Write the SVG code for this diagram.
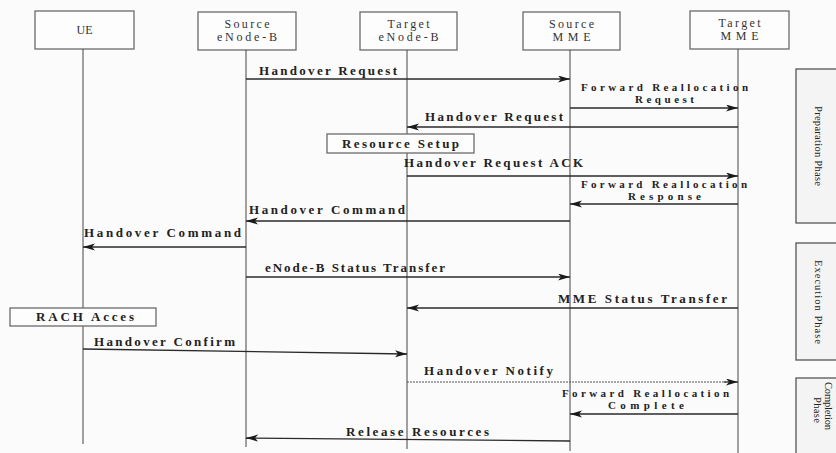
<svg xmlns="http://www.w3.org/2000/svg" width="836" height="453" viewBox="0 0 836 453">
<style>
.bg{fill:#fbfbfb}
.box{fill:#fdfdfd;stroke:#6a6a6a;stroke-width:1.3}
.life{stroke:#444;stroke-width:1}
.msg{stroke:#2a2a2a;stroke-width:1.3;fill:none}
.dot{stroke:#555;stroke-width:1;stroke-dasharray:2 1;fill:none}
.t{font-family:"Liberation Serif","Times New Roman",serif;font-size:13px;font-weight:bold;fill:#222}
.t2{font-family:"Liberation Serif","Times New Roman",serif;font-size:11px;font-weight:bold;fill:#222}
.bt{font-family:"Liberation Serif","Times New Roman",serif;font-size:12px;fill:#333;text-anchor:middle}
.pt{font-family:"Liberation Serif","Times New Roman",serif;font-size:10.5px;fill:#222;text-anchor:middle}
.phase{fill:#f4f4f4;stroke:#555;stroke-width:1.3}
</style>
<defs>
<marker id="ah" markerUnits="userSpaceOnUse" markerWidth="13" markerHeight="8" refX="12" refY="3.5" orient="auto">
<path d="M0,0 L12,3.5 L0,7 L3,3.5 z" fill="#1a1a1a"/>
</marker>
</defs>
<rect class="bg" x="0" y="0" width="836" height="453"/>

<g id="node-ue">
<rect class="box" x="35" y="11" width="99" height="38"/>
<text class="bt" x="84.5" y="34">UE</text>
<line class="life" x1="83" y1="49" x2="83" y2="444"/>
</g>
<g id="node-source-enb">
<rect class="box" x="198" y="12" width="98" height="38"/>
<text class="bt" x="247" y="28" textLength="45" lengthAdjust="spacing">Source</text>
<text class="bt" x="247" y="41" textLength="60" lengthAdjust="spacing">eNode-B</text>
<line class="life" x1="246" y1="50" x2="246" y2="447"/>
</g>
<g id="node-target-enb">
<rect class="box" x="360" y="12" width="97" height="38"/>
<text class="bt" x="408.5" y="28" textLength="42" lengthAdjust="spacing">Target</text>
<text class="bt" x="408.5" y="41" textLength="60" lengthAdjust="spacing">eNode-B</text>
<line class="life" x1="407" y1="50" x2="407" y2="449"/>
</g>
<g id="node-source-mme">
<rect class="box" x="523" y="12" width="97" height="38"/>
<text class="bt" x="571.5" y="28" textLength="45" lengthAdjust="spacing">Source</text>
<text class="bt" x="571.5" y="41" textLength="38" lengthAdjust="spacing">MME</text>
<line class="life" x1="570" y1="50" x2="570" y2="451"/>
</g>
<g id="node-target-mme">
<rect class="box" x="690" y="11" width="99" height="38"/>
<text class="bt" x="739.5" y="27" textLength="42" lengthAdjust="spacing">Target</text>
<text class="bt" x="739.5" y="40" textLength="38" lengthAdjust="spacing">MME</text>
<line class="life" x1="738" y1="49" x2="738" y2="453"/>
</g>

<g id="note-resource-setup">
<rect class="box" x="327" y="134" width="147" height="19"/>
<text class="t" x="342" y="148" textLength="117" lengthAdjust="spacing">Resource Setup</text>
</g>
<g id="note-rach">
<rect class="box" x="10" y="308" width="146" height="18"/>
<text class="t" x="36" y="321" textLength="98" lengthAdjust="spacing">RACH Acces</text>
</g>

<g id="phase-preparation">
<rect class="phase" x="796" y="69" width="45" height="154"/>
<text class="pt" transform="translate(815,146) rotate(90)" textLength="80" lengthAdjust="spacing">Preparation Phase</text>
</g>
<g id="phase-execution">
<rect class="phase" x="796" y="243" width="45" height="117"/>
<text class="pt" transform="translate(815,302) rotate(90)" textLength="84" lengthAdjust="spacing">Execution Phase</text>
</g>
<g id="phase-completion">
<rect class="phase" x="796" y="378" width="45" height="80"/>
<text class="pt" transform="translate(825,406) rotate(90)" textLength="48" lengthAdjust="spacing">Completion</text>
<text class="pt" transform="translate(814,410) rotate(90)" textLength="26" lengthAdjust="spacing">Phase</text>
</g>

<g id="connectors">
<line class="msg" x1="246" y1="79" x2="570" y2="79" marker-end="url(#ah)"/>
<text class="t" x="259" y="75" textLength="138" lengthAdjust="spacing">Handover Request</text>

<line class="msg" x1="570" y1="108" x2="738" y2="108" marker-end="url(#ah)"/>
<text class="t2" x="581" y="91" textLength="167" lengthAdjust="spacing">Forward Reallocation</text>
<text class="t2" x="635" y="103" textLength="59" lengthAdjust="spacing">Request</text>

<line class="msg" x1="738" y1="127" x2="407" y2="127" marker-end="url(#ah)"/>
<text class="t" x="425" y="121" textLength="138" lengthAdjust="spacing">Handover Request</text>

<line class="msg" x1="407" y1="176" x2="738" y2="176" marker-end="url(#ah)"/>
<text class="t" x="404" y="167" textLength="179" lengthAdjust="spacing">Handover Request ACK</text>

<line class="msg" x1="738" y1="204" x2="570" y2="204" marker-end="url(#ah)"/>
<text class="t2" x="581" y="188" textLength="166" lengthAdjust="spacing">Forward Reallocation</text>
<text class="t2" x="628" y="200" textLength="73" lengthAdjust="spacing">Response</text>

<line class="msg" x1="570" y1="221" x2="246" y2="221" marker-end="url(#ah)"/>
<text class="t" x="249" y="214" textLength="156" lengthAdjust="spacing">Handover Command</text>

<line class="msg" x1="246" y1="247" x2="83" y2="247" marker-end="url(#ah)"/>
<text class="t" x="84" y="237" textLength="157" lengthAdjust="spacing">Handover Command</text>

<line class="msg" x1="246" y1="277" x2="570" y2="277" marker-end="url(#ah)"/>
<text class="t" x="265" y="272" textLength="180" lengthAdjust="spacing">eNode-B Status Transfer</text>

<line class="msg" x1="738" y1="308" x2="407" y2="308" marker-end="url(#ah)"/>
<text class="t" x="558" y="303" textLength="169" lengthAdjust="spacing">MME Status Transfer</text>

<line class="msg" x1="83" y1="349" x2="407" y2="354" marker-end="url(#ah)"/>
<text class="t" x="94" y="346" textLength="141" lengthAdjust="spacing">Handover Confirm</text>

<line class="dot" x1="407" y1="382" x2="726" y2="382"/>
<line class="msg" x1="724" y1="382" x2="738" y2="382" marker-end="url(#ah)"/>
<text class="t" x="424" y="375" textLength="129" lengthAdjust="spacing">Handover Notify</text>

<line class="msg" x1="738" y1="414" x2="570" y2="414" marker-end="url(#ah)"/>
<text class="t2" x="562" y="397" textLength="167" lengthAdjust="spacing">Forward Reallocation</text>
<text class="t2" x="608" y="409" textLength="76" lengthAdjust="spacing">Complete</text>

<line class="msg" x1="570" y1="441" x2="246" y2="438" marker-end="url(#ah)"/>
<text class="t" x="346" y="436" textLength="143" lengthAdjust="spacing">Release Resources</text>
</g>
</svg>
